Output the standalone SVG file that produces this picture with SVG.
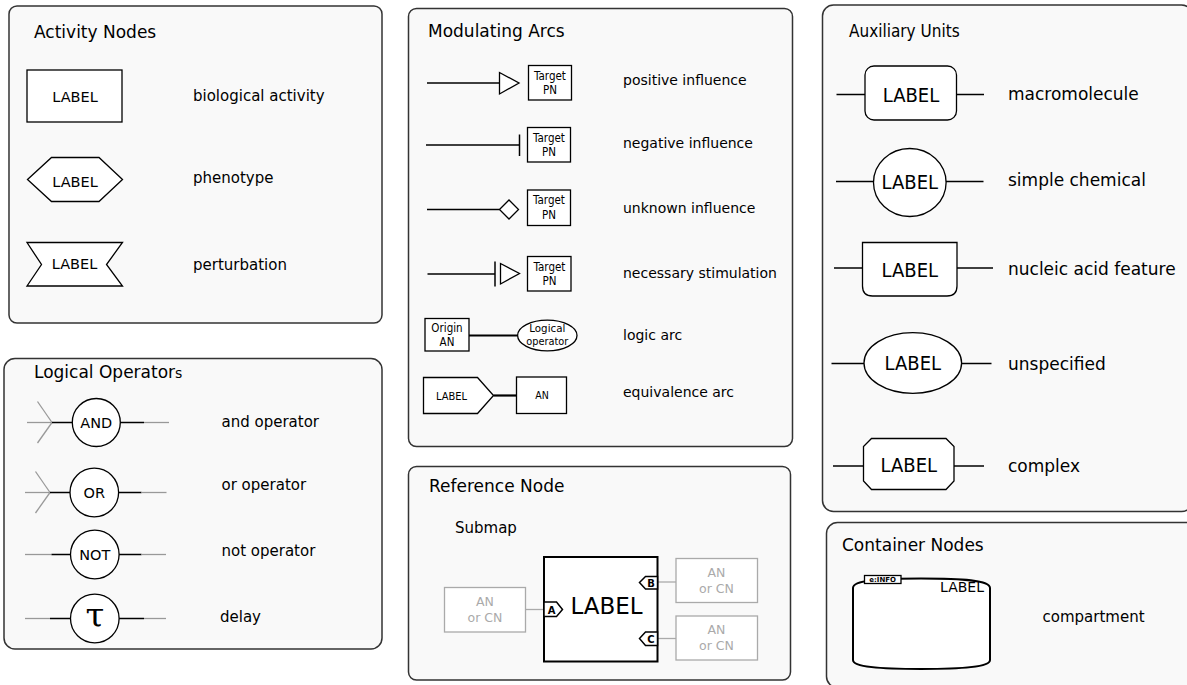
<svg xmlns="http://www.w3.org/2000/svg" width="1187" height="685" viewBox="0 0 1187 685">
<style>
.panel{fill:#f9f9f9;stroke:#333;stroke-width:1.5}
.shape{fill:#fff;stroke:#000;stroke-width:1.3}
.title{font-family:"DejaVu Sans",sans-serif;font-size:17px;fill:#000}
.desc{font-family:"DejaVu Sans",sans-serif;font-size:15px;fill:#000}
.desc14{font-family:"DejaVu Sans",sans-serif;font-size:14px;fill:#000}
.desc17{font-family:"DejaVu Sans",sans-serif;font-size:17px;fill:#000}
.lbl{font-family:"DejaVu Sans",sans-serif;font-size:14.5px;text-anchor:middle;fill:#000}
.cond{font-family:"DejaVu Sans Condensed","DejaVu Sans",sans-serif;font-stretch:condensed;text-anchor:middle;fill:#000}
.gray{fill:#fff;stroke:#aaa;stroke-width:1.3}
.graytxt{font-family:"DejaVu Sans",sans-serif;font-size:12.5px;text-anchor:middle;fill:#aaa}
.blk{stroke:#000;stroke-width:1.5;fill:none}
.gry{stroke:#999;stroke-width:1.3;fill:none}
.thick{stroke:#000;stroke-width:2.2;fill:none}
.port{fill:#fff;stroke:#000;stroke-width:1.5}
.portt{font-family:"DejaVu Sans",sans-serif;font-size:10px;font-weight:bold;text-anchor:middle;fill:#000}
</style>

<!-- panels -->
<g id="panel-activity">
<rect class="panel" x="9" y="6" width="373" height="317" rx="8"/>
<text class="title" x="34" y="38">Activity Nodes</text>
</g>
<g id="panel-logical">
<rect class="panel" x="4" y="358.5" width="378" height="290.5" rx="11"/>
<text class="title" x="34" y="378" font-size="16.5">Logical Operator<tspan font-size="14">s</tspan></text>
</g>
<g id="panel-modulating">
<rect class="panel" x="408.5" y="8.5" width="384" height="438" rx="8"/>
<text class="title" x="428" y="37">Modulating Arcs</text>
</g>
<g id="panel-reference">
<rect class="panel" x="408.5" y="466.5" width="382" height="213.5" rx="8"/>
<text class="title" x="429" y="492">Reference Node</text>
<text class="desc" x="455" y="533">Submap</text>
</g>
<g id="panel-auxiliary">
<rect class="panel" x="822.5" y="5" width="370" height="506.5" rx="11"/>
<text class="cond" x="849" y="37" font-size="17" style="text-anchor:start">Auxiliary Units</text>
</g>
<g id="panel-container">
<rect class="panel" x="826.5" y="522.5" width="370" height="165" rx="11"/>
<text class="title" x="842" y="551" font-size="16.5">Container Nodes</text>
</g>

<!-- connectors -->
<g id="connectors">
<!-- logical operators -->
<line class="gry" x1="27" y1="422.5" x2="52" y2="422.5"/>
<line class="gry" x1="52" y1="422.5" x2="37.5" y2="401.5"/>
<line class="gry" x1="52" y1="422.5" x2="37.5" y2="443"/>
<line class="blk" x1="52" y1="422.5" x2="72.5" y2="422.5"/>
<line class="blk" x1="120" y1="422.5" x2="144" y2="422.5"/>
<line class="gry" x1="144" y1="422.5" x2="169" y2="422.5"/>

<line class="gry" x1="25" y1="492.5" x2="50" y2="492.5"/>
<line class="gry" x1="50" y1="492.5" x2="35.5" y2="471.5"/>
<line class="gry" x1="50" y1="492.5" x2="35.5" y2="513"/>
<line class="blk" x1="50" y1="492.5" x2="70" y2="492.5"/>
<line class="blk" x1="118.5" y1="492.5" x2="141.5" y2="492.5"/>
<line class="gry" x1="141.5" y1="492.5" x2="166.5" y2="492.5"/>

<line class="gry" x1="25" y1="554.5" x2="51.5" y2="554.5"/>
<line class="blk" x1="51.5" y1="554.5" x2="70.5" y2="554.5"/>
<line class="blk" x1="119" y1="554.5" x2="141.5" y2="554.5"/>
<line class="gry" x1="141.5" y1="554.5" x2="166" y2="554.5"/>

<line class="gry" x1="25" y1="618.5" x2="50" y2="618.5"/>
<line class="blk" x1="50" y1="618.5" x2="70.5" y2="618.5"/>
<line class="blk" x1="119" y1="618.5" x2="144" y2="618.5"/>
<line class="gry" x1="144" y1="618.5" x2="166" y2="618.5"/>

<!-- modulating arcs -->
<line class="blk" x1="427" y1="83" x2="499.5" y2="83"/>
<polygon class="shape" points="499.5,72.5 499.5,94 519,83"/>
<line class="blk" x1="426" y1="145" x2="519.5" y2="145"/>
<line class="blk" x1="519.5" y1="134.5" x2="519.5" y2="156" stroke-width="1.8"/>
<line class="blk" x1="427" y1="209.5" x2="499.5" y2="209.5"/>
<polygon class="shape" points="499.5,209.5 509,200 518.5,209.5 509,219"/>
<line class="blk" x1="427.5" y1="274" x2="495" y2="274"/>
<line class="blk" x1="495" y1="261.5" x2="495" y2="286.5" stroke-width="1.8"/>
<polygon class="shape" points="500.5,263.5 500.5,284 519.5,273.5"/>
<line class="thick" x1="469" y1="335.5" x2="517.5" y2="335.5"/>
<line class="thick" x1="493.5" y1="395.5" x2="516.5" y2="395.5"/>

<!-- reference node -->
<line x1="526" y1="609.5" x2="544" y2="609.5" stroke="#aaa" stroke-width="1.3"/>
<line x1="657.5" y1="582" x2="676" y2="582" stroke="#aaa" stroke-width="1.3"/>
<line x1="657.5" y1="638.5" x2="676" y2="638.5" stroke="#aaa" stroke-width="1.3"/>

<!-- auxiliary units -->
<line class="blk" x1="836.5" y1="94.5" x2="865" y2="94.5" stroke-width="1.3"/>
<line class="blk" x1="956.5" y1="94.5" x2="984" y2="94.5" stroke-width="1.3"/>
<line class="blk" x1="836" y1="181.5" x2="873.5" y2="181.5" stroke-width="1.3"/>
<line class="blk" x1="946" y1="181.5" x2="983.5" y2="181.5" stroke-width="1.3"/>
<line class="blk" x1="834" y1="268" x2="862.5" y2="268" stroke-width="1.3"/>
<line class="blk" x1="957" y1="268" x2="993" y2="268" stroke-width="1.3"/>
<line class="blk" x1="831.5" y1="363.5" x2="864" y2="363.5" stroke-width="1.3"/>
<line class="blk" x1="961.5" y1="363.5" x2="991.5" y2="363.5" stroke-width="1.3"/>
<line class="blk" x1="833" y1="466" x2="863.5" y2="466" stroke-width="1.3"/>
<line class="blk" x1="954" y1="466" x2="984" y2="466" stroke-width="1.3"/>
</g>

<!-- Activity nodes -->
<g id="biological-activity">
<rect class="shape" x="27" y="70" width="95" height="52"/>
<text class="lbl" x="75" y="102">LABEL</text>
<text class="desc" x="193" y="101">biological activity</text>
</g>
<g id="phenotype">
<polygon class="shape" points="27.5,179.5 51.5,157.5 99,157.5 122.5,179.5 99,201.5 51.5,201.5"/>
<text class="lbl" x="75" y="187">LABEL</text>
<text class="desc" x="193" y="182.5">phenotype</text>
</g>
<g id="perturbation">
<polygon class="shape" points="27,242.5 122.5,242.5 106.5,264.5 122.5,286 27,286 41.5,264.5"/>
<text class="lbl" x="74.5" y="268.5">LABEL</text>
<text class="desc" x="193" y="270">perturbation</text>
</g>

<!-- Logical operators -->
<g id="and-operator">
<circle class="shape" cx="96.3" cy="422.5" r="24"/>
<text class="lbl" x="96.3" y="427.5" font-size="14.5">AND</text>
<text class="desc" x="221.5" y="427">and operator</text>
</g>
<g id="or-operator">
<circle class="shape" cx="94.3" cy="492.5" r="24.3"/>
<text class="lbl" x="94.3" y="497.5" font-size="14.5">OR</text>
<text class="desc" x="221.5" y="490">or operator</text>
</g>
<g id="not-operator">
<circle class="shape" cx="94.8" cy="554.5" r="24.3"/>
<text class="lbl" x="94.8" y="559.5" font-size="14.5">NOT</text>
<text class="desc" x="221.5" y="556">not operator</text>
</g>
<g id="delay">
<circle class="shape" cx="94.8" cy="618.5" r="24.3"/>
<text x="94.8" y="626.5" font-family="DejaVu Serif,serif" font-size="34" text-anchor="middle">τ</text>
<text class="desc" x="220" y="621.5">delay</text>
</g>

<!-- Modulating arcs -->
<g id="positive-influence">
<rect class="shape" x="528.5" y="65.5" width="43" height="34.5"/>
<text class="cond" x="550" y="79.5" font-size="11.5">Target</text>
<text class="cond" x="550" y="93.5" font-size="11.5">PN</text>
<text class="desc14" x="623" y="84.5">positive influence</text>
</g>
<g id="negative-influence">
<rect class="shape" x="527.5" y="127.5" width="43" height="34.5"/>
<text class="cond" x="549" y="141.5" font-size="11.5">Target</text>
<text class="cond" x="549" y="155.5" font-size="11.5">PN</text>
<text class="desc14" x="623" y="148">negative influence</text>
</g>
<g id="unknown-influence">
<rect class="shape" x="527.5" y="190" width="43" height="35.5"/>
<text class="cond" x="549" y="204" font-size="11.5">Target</text>
<text class="cond" x="549" y="218.5" font-size="11.5">PN</text>
<text class="desc14" x="623" y="212.5">unknown influence</text>
</g>
<g id="necessary-stimulation">
<rect class="shape" x="527.5" y="256.5" width="43.5" height="34.5"/>
<text class="cond" x="549.5" y="270.5" font-size="11.5">Target</text>
<text class="cond" x="549.5" y="284.5" font-size="11.5">PN</text>
<text class="desc14" x="623" y="277.5">necessary stimulation</text>
</g>
<g id="logic-arc">
<rect class="shape" x="425" y="318.5" width="44" height="32.5"/>
<text class="cond" x="447" y="332" font-size="11.5">Origin</text>
<text class="cond" x="447" y="345.5" font-size="11.5">AN</text>
<ellipse class="shape" cx="547.3" cy="335.5" rx="29.7" ry="15.3"/>
<text class="cond" x="547.3" y="332" font-size="10" textLength="36" lengthAdjust="spacingAndGlyphs">Logical</text>
<text class="cond" x="547.3" y="344.5" font-size="10" textLength="42" lengthAdjust="spacingAndGlyphs">operator</text>
<text class="desc14" x="623" y="340">logic arc</text>
</g>
<g id="equivalence-arc">
<polygon class="shape" points="423.5,377.5 477.5,377.5 493.5,395.5 477.5,413.5 423.5,413.5"/>
<text class="cond" x="451.5" y="399.5" font-size="11">LABEL</text>
<rect class="shape" x="516.5" y="377" width="50" height="36.5"/>
<text class="cond" x="542" y="398.5" font-size="10.5">AN</text>
<text class="desc14" x="623" y="396.5">equivalence arc</text>
</g>

<!-- Reference node -->
<g id="submap">
<rect x="544" y="557" width="113.5" height="104.5" fill="#fff" stroke="#000" stroke-width="2"/>
<text x="606.5" y="614" font-family="DejaVu Sans,sans-serif" font-size="23" text-anchor="middle">LABEL</text>
<polygon class="port" points="544,602 556.5,602 562.5,609.5 556.5,616.5 544,616.5"/>
<text class="portt" x="551.5" y="613.5">A</text>
<polygon class="port" points="657.5,576.5 645.5,576.5 639.5,582.5 645.5,589 657.5,589"/>
<text class="portt" x="651" y="586.5">B</text>
<polygon class="port" points="657.5,632 645.5,632 639.5,638.5 645.5,645.5 657.5,645.5"/>
<text class="portt" x="651" y="642.5">C</text>
</g>
<g id="ref-an-a">
<rect class="gray" x="444.5" y="587.5" width="81" height="44.5"/>
<text class="graytxt" x="485" y="605.5">AN</text>
<text class="graytxt" x="485" y="621.5">or CN</text>
</g>
<g id="ref-an-b">
<rect class="gray" x="676" y="558.5" width="81.5" height="44"/>
<text class="graytxt" x="716.5" y="576.5">AN</text>
<text class="graytxt" x="716.5" y="592.5">or CN</text>
</g>
<g id="ref-an-c">
<rect class="gray" x="676" y="616" width="81.5" height="44"/>
<text class="graytxt" x="716.5" y="633.5">AN</text>
<text class="graytxt" x="716.5" y="650">or CN</text>
</g>

<!-- Auxiliary units -->
<g id="macromolecule">
<rect class="shape" x="865" y="66" width="91.5" height="54" rx="9"/>
<text class="cond" x="911" y="101.5" font-size="20">LABEL</text>
<text class="desc17" x="1008" y="100">macromolecule</text>
</g>
<g id="simple-chemical">
<ellipse class="shape" cx="909.8" cy="182.5" rx="36.3" ry="34"/>
<text class="cond" x="909.8" y="189" font-size="20">LABEL</text>
<text class="desc17" x="1008" y="186">simple chemical</text>
</g>
<g id="nucleic-acid-feature">
<path class="shape" d="M862.5,242.5 H957 V286 Q957,296 947,296 H872.5 Q862.5,296 862.5,286 Z"/>
<text class="cond" x="909.8" y="276.5" font-size="20">LABEL</text>
<text class="desc17" x="1008" y="275">nucleic acid feature</text>
</g>
<g id="unspecified">
<ellipse class="shape" cx="912.8" cy="363" rx="48.8" ry="30.3"/>
<text class="cond" x="912.8" y="370" font-size="20">LABEL</text>
<text class="desc17" x="1008" y="369.5">unspecified</text>
</g>
<g id="complex">
<polygon class="shape" points="871.5,438.5 946,438.5 954,446.5 954,481 946,489.5 871.5,489.5 863.5,481 863.5,446.5"/>
<text class="cond" x="908.8" y="471.5" font-size="20">LABEL</text>
<text class="desc17" x="1008" y="471.5">complex</text>
</g>

<!-- Container nodes -->
<g id="compartment">
<path d="M853,588 C853,580 880,578.5 921,578.5 C962,578.5 990,580 990,588 L990,660 C990,667 962,669 921,669 C880,669 853,667 853,660 Z" fill="#fff" stroke="#000" stroke-width="2"/>
<rect x="864.5" y="575.5" width="36.5" height="8" fill="#fff" stroke="#000" stroke-width="1.3"/>
<text x="882.7" y="582.3" font-family="DejaVu Sans,sans-serif" font-size="7" font-weight="bold" text-anchor="middle">e:INFO</text>
<text x="984" y="591.5" font-family="DejaVu Sans,sans-serif" font-size="14" text-anchor="end">LABEL</text>
<text class="desc" x="1042.5" y="621.5">compartment</text>
</g>
</svg>
